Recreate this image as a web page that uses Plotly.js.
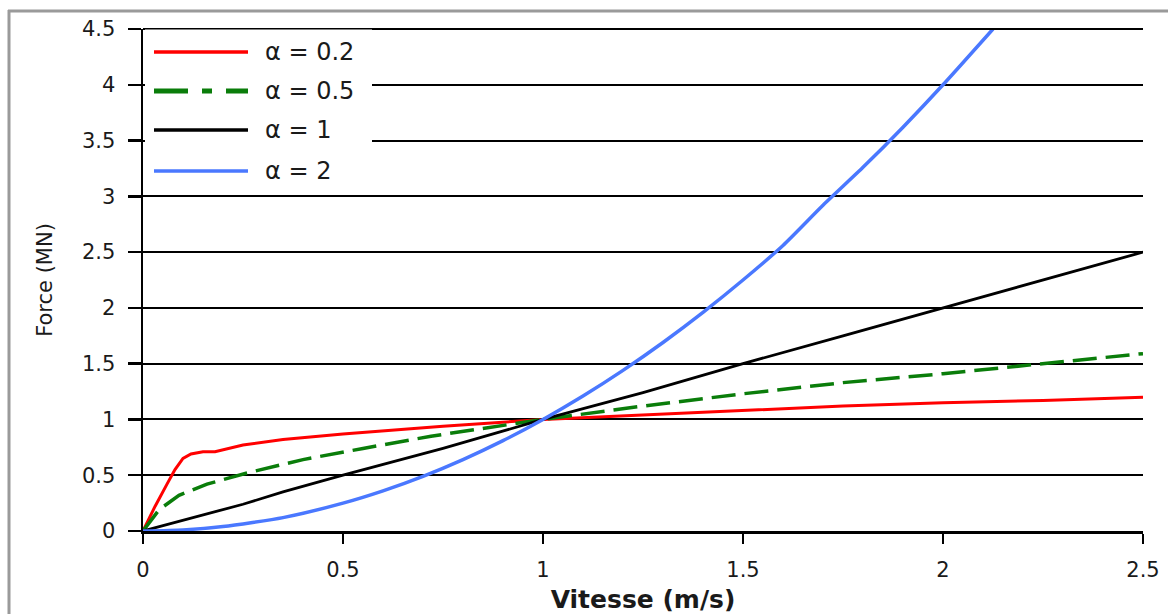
<!DOCTYPE html>
<html>
<head>
<meta charset="utf-8">
<script src="https://cdn.plot.ly/plotly-3.0.1.min.js"></script>
<style>
  html, body { margin: 0; padding: 0; background: #ffffff; }
  #chart { width: 1168px; height: 614px; }
</style>
</head>
<body>
<div id="chart"></div>
<script>
// ---- data ----
const seriesNames = ["α = 0.2", "α = 0.5", "α = 1", "α = 2"];

const vA02 = [0, 0.03, 0.06, 0.08, 0.1, 0.12, 0.15, 0.18, 0.25, 0.35, 0.5, 0.75, 1, 1.25, 1.5, 1.75, 2, 2.25, 2.5];
const fA02 = [0, 0.22, 0.42, 0.55, 0.65, 0.69, 0.71, 0.71, 0.77, 0.82, 0.87, 0.94, 1.0, 1.04, 1.08, 1.12, 1.15, 1.17, 1.2];

const vA05 = [0, 0.04, 0.09, 0.16, 0.26, 0.4, 0.55, 0.72, 1, 1.25, 1.5, 1.75, 2, 2.25, 2.5];
const fA05 = [0, 0.19, 0.32, 0.42, 0.52, 0.64, 0.74, 0.85, 1.0, 1.12, 1.23, 1.33, 1.41, 1.5, 1.59];

const vA1 = [0, 0.25, 0.35, 0.5, 0.75, 1, 1.25, 1.5, 1.75, 2, 2.25, 2.5];
const fA1 = [0, 0.24, 0.35, 0.5, 0.74, 1.0, 1.24, 1.5, 1.75, 2.0, 2.25, 2.5];

const vA2 = [0, 0.1, 0.2, 0.35, 0.5, 0.6, 0.7, 0.8, 0.9, 1, 1.1, 1.2, 1.3, 1.4, 1.5, 1.6, 1.7, 1.8, 1.9, 2, 2.125];
const fA2 = [0, 0.01, 0.04, 0.12, 0.25, 0.36, 0.49, 0.64, 0.81, 1.0, 1.21, 1.44, 1.69, 1.96, 2.25, 2.56, 2.92, 3.26, 3.62, 4.0, 4.5];

const xTickVals = [0, 0.5, 1, 1.5, 2, 2.5];
const xTickText = ["0", "0.5", "1", "1.5", "2", "2.5"];
const yTickVals = [0, 0.5, 1, 1.5, 2, 2.5, 3, 3.5, 4, 4.5];
const yTickText = ["0", "0.5", "1", "1.5", "2", "2.5", "3", "3.5", "4", "4.5"];

const xTitle = "Vitesse (m/s)";
const yTitle = "Force (MN)";

// ---- styles ----
const colors = ["#ff0000", "#0a7d0a", "#000000", "#4a78ff"];
const widths = [3, 3.5, 2.8, 3.5];
const dashes = ["solid", "24px,9px", "solid", "solid"];

const xs = [vA02, vA05, vA1, vA2];
const ys = [fA02, fA05, fA1, fA2];

const traces = xs.map((x, i) => ({
  x: x, y: ys[i], type: "scatter", mode: "lines", name: seriesNames[i],
  line: { color: colors[i], width: widths[i], dash: dashes[i],
          shape: i === 3 ? "spline" : "linear", smoothing: 0.6 },
  showlegend: false, hoverinfo: "skip"
}));

// plot-area geometry in px (for the hand-drawn legend box)
const L = 143, T = 29, W = 1000, H = 502;
const px2x = p => (p - L) / W;
const px2y = p => (T + H - p) / H;

const shapes = [
  // outer frame of the figure (grey, left and top)
  { type: "line", xref: "paper", yref: "paper", x0: px2x(9), x1: px2x(9), y0: px2y(10), y1: px2y(640),
    line: { color: "#9a9a9a", width: 3 }, layer: "below" },
  { type: "line", xref: "paper", yref: "paper", x0: px2x(8), x1: px2x(1200), y0: px2y(11), y1: px2y(11),
    line: { color: "#9a9a9a", width: 3 }, layer: "below" },
  // top gridline (at the upper range edge)
  { type: "line", xref: "paper", yref: "paper", x0: 0, x1: 1, y0: 1, y1: 1,
    line: { color: "#000000", width: 2 }, layer: "above" },
  // legend background
  { type: "rect", xref: "paper", yref: "paper", x0: px2x(145), x1: px2x(372), y0: px2y(190), y1: px2y(29.6),
    fillcolor: "#ffffff", line: { width: 0 }, layer: "above" }
];
const legendY = [52, 91, 130, 171];
const legendDash = ["solid", "34px,14px,10px,14px", "solid", "solid"];
const annotations = [];
seriesNames.forEach((name, i) => {
  shapes.push({ type: "line", xref: "paper", yref: "paper",
    x0: px2x(154), x1: px2x(248), y0: px2y(legendY[i]), y1: px2y(legendY[i]),
    line: { color: colors[i], width: i === 1 ? 5 : 3.5, dash: legendDash[i] }, layer: "above" });
  annotations.push({ xref: "paper", yref: "paper", x: px2x(263), y: px2y(legendY[i]),
    xanchor: "left", yanchor: "middle", text: name, showarrow: false,
    font: { family: "DejaVu Sans", size: 24, color: "#1a1a1a" } });
});

const layout = {
  width: 1168, height: 614,
  margin: { l: L, r: 1168 - L - W, t: T, b: 614 - T - H, pad: 0 },
  paper_bgcolor: "#ffffff", plot_bgcolor: "#ffffff",
  showlegend: false,
  font: { family: "DejaVu Sans", color: "#1a1a1a" },
  xaxis: {
    range: [0, 2.5], tickvals: xTickVals, ticktext: xTickText,
    showgrid: false, zeroline: false,
    showline: true, linecolor: "#000000", linewidth: 2.5,
    ticks: "outside", ticklen: 10, tickwidth: 2.5, tickcolor: "#000000",
    tickfont: { family: "DejaVu Sans", size: 21, color: "#1a1a1a" },
    ticklabelstandoff: 8,
    title: { text: xTitle, font: { family: "DejaVu Sans", size: 25, color: "#1a1a1a", weight: "bold" }, standoff: 10 },
    fixedrange: true
  },
  yaxis: {
    range: [0, 4.5], tickvals: yTickVals, ticktext: yTickText,
    showgrid: true, gridcolor: "#000000", gridwidth: 2,
    zeroline: false,
    showline: true, linecolor: "#000000", linewidth: 2.5,
    ticks: "outside", ticklen: 13, tickwidth: 2.5, tickcolor: "#000000",
    tickfont: { family: "DejaVu Sans", size: 21, color: "#1a1a1a" },
    ticklabelstandoff: 8,
    title: { text: yTitle, font: { family: "DejaVu Sans", size: 21, color: "#1a1a1a" }, standoff: 24 },
    fixedrange: true
  },
  shapes: shapes,
  annotations: annotations,
  hovermode: false
};

Plotly.newPlot("chart", traces, layout, { displayModeBar: false, staticPlot: true });
</script>
</body>
</html>
